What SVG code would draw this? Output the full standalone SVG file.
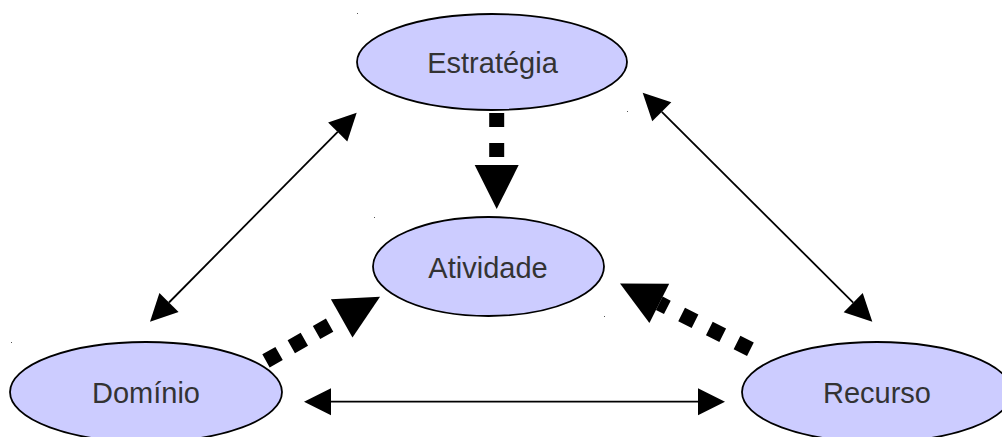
<svg xmlns="http://www.w3.org/2000/svg" width="1002" height="437" viewBox="0 0 1002 437">
<style>
.node ellipse{fill:#ccccff;stroke:#000;stroke-width:1.8}
.node text{font-family:"Liberation Sans",Arial,sans-serif;font-size:29px;fill:#333;text-anchor:middle}
.thin{stroke:#000;stroke-width:1.8;fill:none;marker-start:url(#thinArrow);marker-end:url(#thinArrow)}
.thick{stroke:#000;stroke-width:15;fill:none;marker-end:url(#thickArrow)}
.dot{fill:#555}
</style>
<defs>
<marker id="thinArrow" markerUnits="userSpaceOnUse" markerWidth="28" markerHeight="28" refX="0" refY="13.5" orient="auto-start-reverse" overflow="visible">
<path d="M0,0 L27,13.5 L0,27 Z" fill="#000"/>
</marker>
<marker id="thickArrow" markerUnits="userSpaceOnUse" markerWidth="45" markerHeight="45" refX="0" refY="22" orient="auto" overflow="visible">
<path d="M0,0 L44,22 L0,44 Z" fill="#000"/>
</marker>
</defs>
<rect width="1002" height="437" fill="#fff"/>
<g id="estrategia" class="node">
<ellipse cx="492" cy="62" rx="135" ry="48"/>
<text x="492.5" y="73.3">Estratégia</text>
</g>
<g id="atividade" class="node">
<ellipse cx="488.5" cy="266.5" rx="115.5" ry="49.5"/>
<text x="488" y="278">Atividade</text>
</g>
<g id="dominio" class="node">
<ellipse cx="146" cy="392" rx="136" ry="50"/>
<text x="146" y="403">Domínio</text>
</g>
<g id="recurso" class="node">
<ellipse cx="877" cy="392" rx="135" ry="50"/>
<text x="877" y="403">Recurso</text>
</g>
<g id="connectors">
<line class="thin" x1="169" y1="302.5" x2="337.7" y2="131.9"/>
<line class="thin" x1="661.8" y1="111.8" x2="853.2" y2="302.6"/>
<line class="thin" x1="331" y1="401.7" x2="698" y2="401.7"/>
<line class="thick" x1="496.7" y1="113" x2="496.7" y2="165" stroke-dasharray="14 16"/>
<line class="thick" x1="266" y1="360.9" x2="341.7" y2="318.3" stroke-dasharray="15 14"/>
<line class="thick" x1="750.4" y1="349.2" x2="659.3" y2="303.3" stroke-dasharray="15 16"/>
</g>
<g id="marks">
<rect class="dot" x="357" y="13" width="1" height="1"/>
<rect class="dot" x="627" y="111" width="1" height="1"/>
<rect class="dot" x="374" y="217" width="1" height="1"/>
<rect class="dot" x="604" y="316" width="1" height="1"/>
<rect class="dot" x="11" y="342" width="1" height="1"/>
</g>
</svg>
